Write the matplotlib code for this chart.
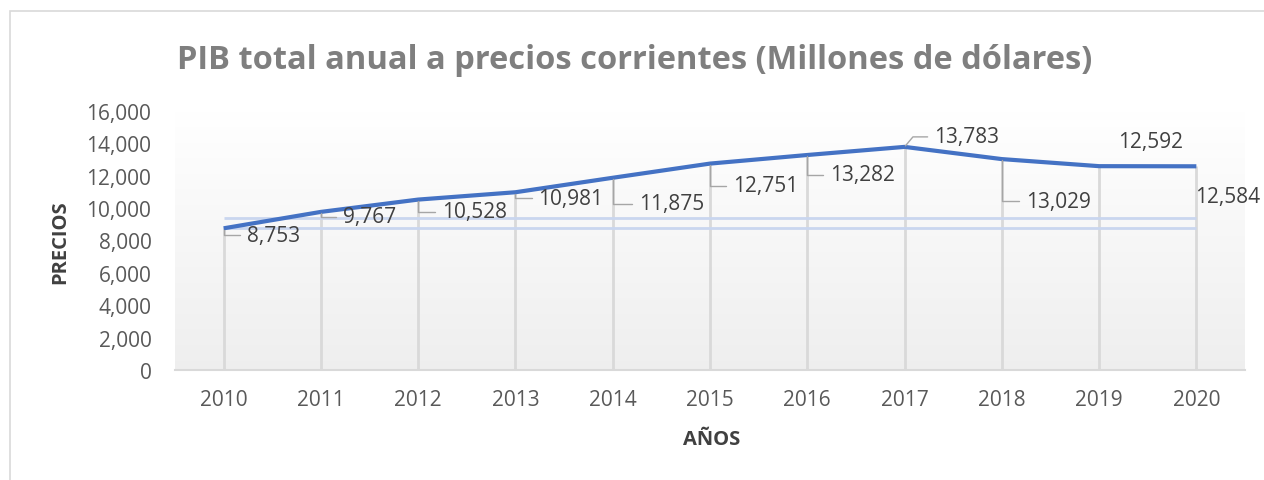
import numpy as np
import matplotlib
matplotlib.use("Agg")
from matplotlib import pyplot as plt
from matplotlib.patches import Rectangle
from matplotlib.ticker import FuncFormatter

# Data
years = ["2010", "2011", "2012", "2013", "2014", "2015",
         "2016", "2017", "2018", "2019", "2020"]
pib = [8753, 9767, 10528, 10981, 11875, 12751,
       13282, 13783, 13029, 12592, 12584]
# faint horizontal bands seen across the plot area
bandas = [8753, 9400]

LINE_COLOR = "#4472C4"
TEXT_COLOR = "#595959"
LABEL_COLOR = "#404040"
GRID_COLOR = "#d9d9d9"

plt.rcParams["font.family"] = ["Open Sans", "DejaVu Sans"]

W, H, DPI = 1264, 481, 100
fig = plt.figure(figsize=(W / DPI, H / DPI), dpi=DPI)
fig.patch.set_facecolor("white")

# outer chart border (cut off on right / bottom like the reference)
fig.add_artist(Rectangle((10 / W, -0.05), 1.2, 1 - 12 / H + 0.05,
                         transform=fig.transFigure, fill=False,
                         edgecolor=GRID_COLOR, linewidth=1.2))

ax = fig.add_axes([175 / W, 1 - 371 / H, (1245 - 175) / W, (371 - 112) / H])
x = np.arange(len(years))
ax.set_xlim(-0.5, len(years) - 0.5)
ax.set_ylim(0, 16000)

# gradient background
grad = np.linspace(1.0, 0.0, 256).reshape(-1, 1)
top, bottom = np.array([1.0, 1.0, 1.0]), np.array([0.935, 0.935, 0.935])
img = top * grad[..., None] + bottom * (1 - grad[..., None])
ax.imshow(img, extent=[0, 1, 0, 1], transform=ax.transAxes,
          aspect="auto", zorder=0)

# drop lines and bands
ax.vlines(x, 0, pib, color=GRID_COLOR, linewidth=2, zorder=1)
for b in bandas:
    ax.hlines(b, x[0], x[-1], color="#c9d6ef", linewidth=2, zorder=1)

ax.plot(x, pib, color=LINE_COLOR, linewidth=3, zorder=3,
        solid_capstyle="butt")

# data labels: offsets in pixels (dx, dy) and whether a leader line shows
offsets = [(23, -7), (22, -5), (24, -12), (23, -6), (26, -26), (23, -22),
           (23, -20), (30, 10), (24, -42), (19, 25), (-1, -30)]
leaders = [True, True, True, True, True, True, True, True, True, False, False]
for xi, v, (dx, dy), lead in zip(x, pib, offsets, leaders):
    props = None
    if lead:
        cs = "angle,angleA=0,angleB=90,rad=0"
        if dy > 0:
            cs = "angle,angleA=0,angleB=50,rad=0"
        props = dict(arrowstyle="-", color="#a6a6a6", linewidth=1,
                     connectionstyle=cs, shrinkA=3, shrinkB=1)
    ax.annotate(f"{v:,}", xy=(xi, v), xytext=(dx, dy),
                textcoords="offset pixels", ha="left", va="center",
                fontsize=15, color=LABEL_COLOR, arrowprops=props,
                annotation_clip=False, zorder=5)

# axes styling
for s in ["top", "right", "left"]:
    ax.spines[s].set_visible(False)
ax.spines["bottom"].set_color(GRID_COLOR)
ax.spines["bottom"].set_linewidth(1.5)
ax.set_xticks(x)
ax.set_xticklabels(years)
ax.set_yticks(range(0, 16001, 2000))
ax.yaxis.set_major_formatter(FuncFormatter(lambda v, p: f"{int(v):,}"))
ax.tick_params(axis="both", length=0, labelsize=15, labelcolor=TEXT_COLOR)
ax.tick_params(axis="x", pad=14)
ax.tick_params(axis="y", pad=17)

fig.text(712 / W, 1 - 440 / H, "AÑOS", ha="center", va="center",
         fontsize=14.5, fontweight="bold", color=LABEL_COLOR)
fig.text(60 / W, 1 - 242 / H, "PRECIOS", ha="center", va="center",
         rotation=90, fontsize=14.5, fontweight="bold", color=LABEL_COLOR)
fig.text(635 / W, 1 - 61 / H,
         "PIB total anual a precios corrientes (Millones de dólares)",
         ha="center", va="center", fontsize=23.5, fontweight="bold",
         color="#7f7f7f")

fig.savefig("out.png", dpi=DPI)
